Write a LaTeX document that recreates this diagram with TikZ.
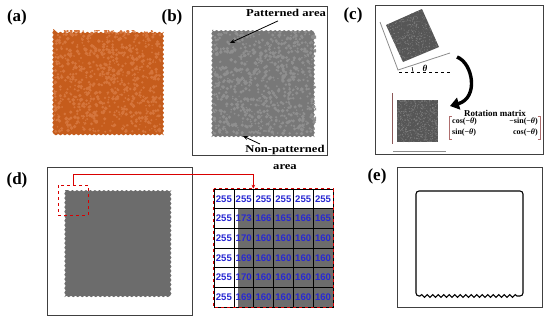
\documentclass[tikz,border=0pt]{standalone}
\usepackage{fontspec}
\setmainfont{Liberation Serif}
\newfontfamily\numfont{Liberation Sans}
\usetikzlibrary{arrows.meta,decorations.pathmorphing}
\definecolor{orbase}{RGB}{197,92,28}
\definecolor{orlight}{RGB}{213,117,60}
\definecolor{gbase}{RGB}{120,120,120}
\definecolor{glight}{RGB}{143,143,143}
\definecolor{dgray}{RGB}{108,108,108}
\definecolor{cgray}{RGB}{86,86,86}
\definecolor{cdot}{RGB}{125,125,125}
\definecolor{numblue}{RGB}{40,40,210}
\definecolor{brk}{RGB}{175,110,110}
% random blobs in box x0,y0,w,h ; colour ; count ; rmin ; rrange
\newcommand\mottle[8]{%
  \foreach \k in {1,...,#6}{
    \pgfmathsetmacro\mx{#1+#3*rnd}
    \pgfmathsetmacro\my{#2+#4*rnd}
    \pgfmathsetmacro\mr{#7+#8*rnd}
    \fill[#5] (\mx,\my) circle (\mr);
  }}
\begin{document}
\begin{tikzpicture}[x=1pt,y=-1pt,
  lbl/.style={font=\fontsize{17}{19}\selectfont\bfseries, inner sep=0},
  frame/.style={draw=black!75, line width=0.7},
  ann/.style={font=\fontsize{10.5}{12}\selectfont\bfseries, inner sep=0},
  pointer/.style={-{Stealth[length=5,width=4]}, line width=0.8},
  wavy/.style={decorate, decoration={snake, amplitude=0.7, segment length=4.5}},
  mat/.style={font=\fontsize{8}{10}\selectfont\bfseries, inner sep=0},
  cell/.style={draw=black, line width=0.6, minimum width=19.83, minimum height=19.67, inner sep=0,
     font={\numfont\fontsize{9.6}{11}\selectfont\bfseries}, text=numblue},
  outline/.style={draw=black, line width=1.1}
]
\useasboundingbox (0,0) rectangle (550,322);

% ---------- (a)
\node[lbl] (la) at (17,17) {(a)};
\fill[orbase, wavy] (53,29) rectangle (162,133);
\pgfmathsetseed{11}
\begin{scope}
  \clip (54,30) rectangle (161,132);
  \mottle{54}{30}{107}{102}{orlight}{800}{0.7}{1.3}
\end{scope}

% ---------- (b)
\node[lbl] (lb) at (172,17) {(b)};
\draw[frame] (192,6) rectangle (327,155);
\fill[gbase, wavy] (212,30) rectangle (317,135);
\pgfmathsetseed{5}
\begin{scope}
  \clip (213,31) rectangle (316,134);
  \mottle{213}{31}{103}{103}{glight}{800}{0.7}{1.3}
\end{scope}
\node[ann] (pa) at (286,13) {\scalebox{1.2}[1]{Patterned area}};
\coordinate (patpt) at (230,43);
\draw[pointer] ([shift={(-8,4)}]pa.south) -- (patpt);
\node[ann] (np) at (285,150) {\scalebox{1.2}[1]{Non-patterned}};
\node[ann] (npa) at (285,167) {\scalebox{1.2}[1]{area}};
\coordinate (nppt) at (243,136);
\draw[pointer] ([shift={(-25,-1)}]np.north) -- (nppt);

% ---------- (c)
\node[lbl] (lc) at (353,15) {(c)};
\draw[frame] (375,5) rectangle (543,154);
\fill[cgray] (386,25) -- (422,9) -- (439,47) -- (403,62) -- cycle;
\pgfmathsetseed{3}
\begin{scope}
  \clip (386,25) -- (422,9) -- (439,47) -- (403,62) -- cycle;
  \mottle{386}{9}{53}{53}{cdot}{700}{0.25}{0.4}
\end{scope}
\draw[black!45, line width=0.8] (380,22) -- (398,70) -- (450,53);
\coordinate (vtx) at (399,72);
\draw[black, dashed, line width=0.7] (vtx) -- (452,72);
\draw[black, line width=0.6] (vtx) ++(14,0) arc[start angle=0, end angle=-20, radius=14];
\node[font=\fontsize{9}{10}\selectfont\bfseries\itshape, inner sep=0] (th) at (425,68) {θ};
\coordinate (arrS) at (457,57);
\coordinate (arrE) at (450,106);
\draw[line width=3.4, -{Triangle[length=9,width=12]}] (arrS) .. controls (473,63) and (479,98) .. (arrE);
\fill[cgray] (397,100) rectangle (438,142);
\begin{scope}
  \clip (397,100) rectangle (438,142);
  \mottle{397}{100}{41}{42}{cdot}{650}{0.25}{0.4}
\end{scope}
\draw[brk!80!black, line width=0.6] (392,93) -- (392,144);
\draw[black!45, line width=0.8] (393,151) -- (446,151);
\node[font=\fontsize{9}{10}\selectfont\bfseries, inner sep=0] (rm) at (495,113) {Rotation matrix};
\node[mat, anchor=west] (m11) at (452,122) {cos(−\textit{θ})};
\node[mat, anchor=east] (m12) at (538,122) {−sin(−\textit{θ})};
\node[mat, anchor=west] (m21) at (452,133) {sin(−\textit{θ})};
\node[mat, anchor=east] (m22) at (538,133) {cos(−\textit{θ})};
\draw[brk, line width=0.7] (451.5,116) -- (449,116) -- (449,139) -- (451.5,139);
\draw[brk, line width=0.7] (537.5,116) -- (540,116) -- (540,139) -- (537.5,139);

% ---------- (d)
\node[lbl] (ld) at (17,180) {(d)};
\draw[frame] (47,167) rectangle (192,315);
\fill[dgray, wavy] (65,190) rectangle (172,295);
\node[draw=red!85!black, dashed, line width=0.8, minimum width=30, minimum height=30, inner sep=0] (zoombox) at (73,200) {};
% table
\fill[dgray] (238,209) rectangle (333,307);
\foreach \v [count=\c] in {255,255,255,255,255,255}
  \node[cell] (c1\c) at ({214+(\c-0.5)*19.83},{189+0.5*19.67}) {\v};
\foreach \v [count=\c] in {255,173,166,165,166,165}
  \node[cell] (c2\c) at ({214+(\c-0.5)*19.83},{189+1.5*19.67}) {\v};
\foreach \v [count=\c] in {255,170,160,160,160,160}
  \node[cell] (c3\c) at ({214+(\c-0.5)*19.83},{189+2.5*19.67}) {\v};
\foreach \v [count=\c] in {255,169,160,160,160,160}
  \node[cell] (c4\c) at ({214+(\c-0.5)*19.83},{189+3.5*19.67}) {\v};
\foreach \v [count=\c] in {255,170,160,160,160,160}
  \node[cell] (c5\c) at ({214+(\c-0.5)*19.83},{189+4.5*19.67}) {\v};
\foreach \v [count=\c] in {255,169,160,160,160,160}
  \node[cell] (c6\c) at ({214+(\c-0.5)*19.83},{189+5.5*19.67}) {\v};
\draw[red!85!black, dashed, line width=0.8] (c11.north west) rectangle (c66.south east);
\draw[red!85!black, line width=0.8, -{Stealth[length=4,width=3.5]}] (zoombox.north) -- ++(0,-10) -| (c13.north west);

% ---------- (e)
\node[lbl] (le) at (377,176) {(e)};
\draw[frame] (397,167) rectangle (542,307);
\draw[outline, rounded corners=3] (420,296) -- (416,296) -- (416,191) -- (523,191) -- (523,296) -- (519,296);
\draw[outline, decorate, decoration={snake, amplitude=1.4, segment length=5.5}] (420,296) -- (519,296);
\end{tikzpicture}
\end{document}
